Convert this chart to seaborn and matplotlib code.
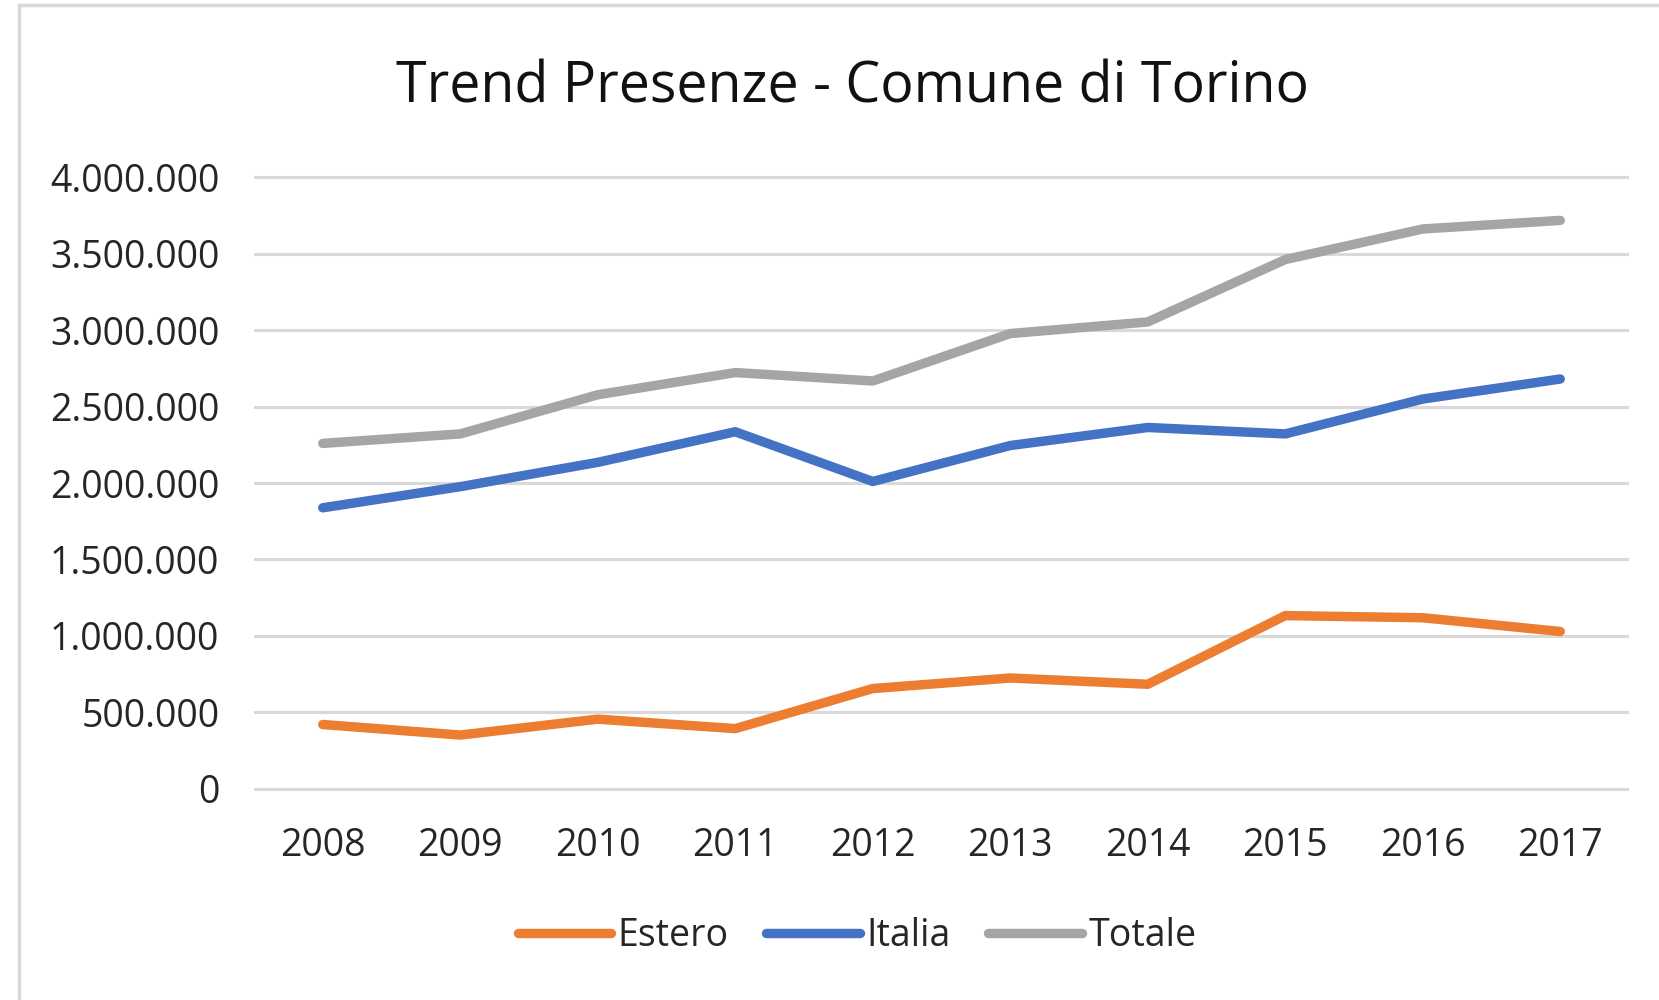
import matplotlib
matplotlib.use("Agg")
import matplotlib.pyplot as plt
import seaborn as sns
import pandas as pd
from matplotlib.ticker import FuncFormatter, MultipleLocator
from matplotlib.patches import Rectangle
from matplotlib.lines import Line2D

years = ["2008", "2009", "2010", "2011", "2012", "2013", "2014", "2015", "2016", "2017"]
estero = [421000, 352000, 456000, 394000, 656000, 725000, 684000, 1133000, 1119000, 1029000]
italia = [1838000, 1976000, 2135000, 2335000, 2010000, 2245000, 2363000, 2321000, 2549000, 2680000]
totale = [2259000, 2321000, 2577000, 2722000, 2667000, 2977000, 3053000, 3461000, 3661000, 3717000]
series_names = ["Estero", "Italia", "Totale"]
colors = ["#ED7D31", "#4472C4", "#A5A5A5"]
title = "Trend Presenze - Comune di Torino"

sns.set_theme(style="white")
plt.rcParams["font.family"] = ["Open Sans", "DejaVu Sans"]

df = pd.DataFrame({
    "anno": years * 3,
    "valore": estero + italia + totale,
    "serie": [series_names[0]] * len(years) + [series_names[1]] * len(years) + [series_names[2]] * len(years),
})

fig = plt.figure(figsize=(16.59, 10), dpi=100)
ax = fig.add_axes([254 / 1659, 0.205, (1629 - 254) / 1659, 0.829 - 0.205])

sns.lineplot(data=df, x="anno", y="valore", hue="serie", hue_order=series_names,
             palette=colors, linewidth=6.8, ax=ax, legend=False, sort=False,
             solid_capstyle="round", solid_joinstyle="round")

ax.set_xlim(-0.5, len(years) - 0.5)
ax.set_ylim(-40000, 4040000)
ax.yaxis.set_major_locator(MultipleLocator(500000))
ax.yaxis.set_major_formatter(FuncFormatter(lambda v, p: f"{int(round(v)):,}".replace(",", ".")))
ax.grid(axis="y", color="#D9D9D9", linewidth=2.2)
ax.grid(axis="x", visible=False)
ax.set_axisbelow(True)
for s in ax.spines.values():
    s.set_visible(False)
ax.set_xlabel("")
ax.set_ylabel("")
ax.tick_params(axis="both", length=0, labelsize=27, colors="#262626")
ax.tick_params(axis="y", pad=25)
ax.tick_params(axis="x", pad=23)

fig.text(852 / 1659, 1 - 88 / 1000, title, ha="center", va="center", fontsize=40, color="#111111")

handles = [Line2D([0], [0], color=c, lw=6.8, solid_capstyle="round") for c in colors]
fig.legend(handles, series_names, loc="center", bbox_to_anchor=(857 / 1659, 1 - 936 / 1000),
           ncol=3, frameon=False, fontsize=27, handlelength=2.5, handletextpad=0.17,
           columnspacing=1.0, labelcolor="#262626")

fig.patches.append(Rectangle((19 / 1659, -0.1), 1.2, 1 - 5 / 1000 + 0.1, transform=fig.transFigure,
                             fill=False, edgecolor="#D9D9D9", linewidth=2.5))

fig.savefig("out.png", dpi=100, facecolor="white")
